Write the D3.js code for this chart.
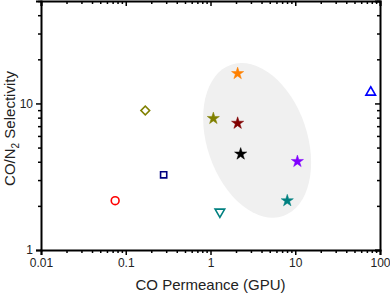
<!DOCTYPE html>
<html>
<head>
<meta charset="utf-8">
<script src="https://cdn.jsdelivr.net/npm/d3@7"></script>
<style>
  body { margin: 0; background: #fff; }
  svg { display: block; font-family: Arial, "Liberation Sans", sans-serif; }
</style>
</head>
<body>
<div id="chart"></div>
<script>
'use strict';

// CO permeance (GPU) and CO/N2 selectivity
var names = ['circle', 'square', 'diamond', 'starOrange', 'starOlive', 'starMaroon', 'starBlack', 'starPurple', 'starTeal', 'triDown', 'triUp'];
var permeance = [0.075, 0.28, 0.17, 2.09, 1.08, 2.09, 2.27, 10.6, 8.05, 1.29, 77.7];
var selectivity = [2.17, 3.26, 8.95, 16.0, 7.9, 7.33, 4.52, 4.02, 2.17, 1.82, 12.1];
var shapes = ['circle', 'square', 'diamond', 'star', 'star', 'star', 'star', 'star', 'star', 'triangleDown', 'triangle'];
var colors = ['#ff0000', '#000080', '#808000', '#ff8000', '#808000', '#800000', '#000000', '#8000ff', '#008080', '#008080', '#0000ff'];

var xTicks = [0.01, 0.1, 1, 10, 100];
var yTicks = [1, 10];
var ellipseCenter = [3.55, 5.6];

var width = 390, height = 296,
    margin = {top: 1, right: 10, bottom: 46, left: 41},
    w = width - margin.left - margin.right,
    h = height - margin.top - margin.bottom;

var x = d3.scaleLog().domain([0.01, 100]).range([0, w]),
    y = d3.scaleLog().domain([1, 50]).range([h, 0]);

var svg = d3.select('#chart').append('svg').attr('width', width).attr('height', height);
var g = svg.append('g').attr('transform', 'translate(' + margin.left + ',' + margin.top + ')');

// grey highlight ellipse behind the stars
g.append('ellipse')
  .attr('cx', 0).attr('cy', 0).attr('rx', 50).attr('ry', 80)
  .attr('transform', 'translate(' + x(ellipseCenter[0]) + ',' + y(ellipseCenter[1]) + ') rotate(-19)')
  .style('fill', '#f0f0f0');

function minorTicks(scale) {
  var d = scale.domain(), out = [];
  for (var e = Math.floor(Math.log10(d[0])); e < Math.ceil(Math.log10(d[1])); e++) {
    for (var k = 2; k < 10; k++) {
      var v = k * Math.pow(10, e);
      if (v > d[0] && v <= d[1]) out.push(v);
    }
  }
  return out;
}

function drawAxis(axisFn, scale, major, tr, withLabels, inner) {
  var sign = inner ? -1 : 1;
  var ax = g.append('g').attr('transform', tr);
  ax.call(axisFn(scale).tickValues(major).tickSize(5 * sign).tickPadding(3)
    .tickFormat(withLabels ? function (d) { return String(d); } : ''));
  ax.append('g').call(axisFn(scale).tickValues(minorTicks(scale)).tickSize(3 * sign).tickFormat(''))
    .select('.domain').remove();
  ax.selectAll('.domain').attr('stroke-width', 2).attr('stroke', '#000');
  ax.selectAll('.tick line').attr('stroke-width', 1.5).attr('stroke', '#000');
  ax.selectAll('text').style('font-size', '12px').style('fill', '#222');
  return ax;
}

drawAxis(d3.axisBottom, x, xTicks, 'translate(0,' + h + ')', true, false);
drawAxis(d3.axisTop, x, xTicks, 'translate(0,0)', false, true);
drawAxis(d3.axisLeft, y, yTicks, 'translate(0,0)', true, false);
drawAxis(d3.axisRight, y, yTicks, 'translate(' + w + ',0)', false, true);

var symbolMap = {
  circle: d3.symbolCircle, square: d3.symbolSquare, diamond: d3.symbolSquare,
  star: d3.symbolStar, triangle: d3.symbolTriangle, triangleDown: d3.symbolTriangle
};
var sizeMap = {circle: 48, square: 38, diamond: 38, star: 46, triangle: 40, triangleDown: 40};

g.selectAll('path.pt').data(names).enter().append('path')
  .attr('class', 'pt')
  .attr('d', function (d, i) { return d3.symbol().type(symbolMap[shapes[i]]).size(sizeMap[shapes[i]])(); })
  .attr('transform', function (d, i) {
    var t = 'translate(' + x(permeance[i]) + ',' + y(selectivity[i]) + ')';
    if (shapes[i] === 'triangleDown') t += ' rotate(180)';
    if (shapes[i] === 'diamond') t += ' rotate(45)';
    if (shapes[i] === 'triangle') t += ' translate(0,1)';
    return t;
  })
  .style('fill', function (d, i) { return shapes[i] === 'star' ? colors[i] : 'none'; })
  .style('stroke', function (d, i) { return colors[i]; })
  .style('stroke-width', function (d, i) { return shapes[i] === 'star' ? 0.5 : 1.6; });

// axis titles
svg.append('text')
  .attr('x', margin.left + w / 2).attr('y', 290)
  .attr('text-anchor', 'middle').style('font-size', '15px').style('fill', '#222')
  .text('CO Permeance (GPU)');

var yl = svg.append('text')
  .attr('transform', 'translate(15,' + (margin.top + h / 2 + 3) + ') rotate(-90)')
  .attr('text-anchor', 'middle').style('font-size', '15px').style('fill', '#222');
yl.append('tspan').text('CO/N');
yl.append('tspan').attr('dy', 4).style('font-size', '10px').text('2');
yl.append('tspan').attr('dy', -4).text(' Selectivity');
</script>
</body>
</html>
